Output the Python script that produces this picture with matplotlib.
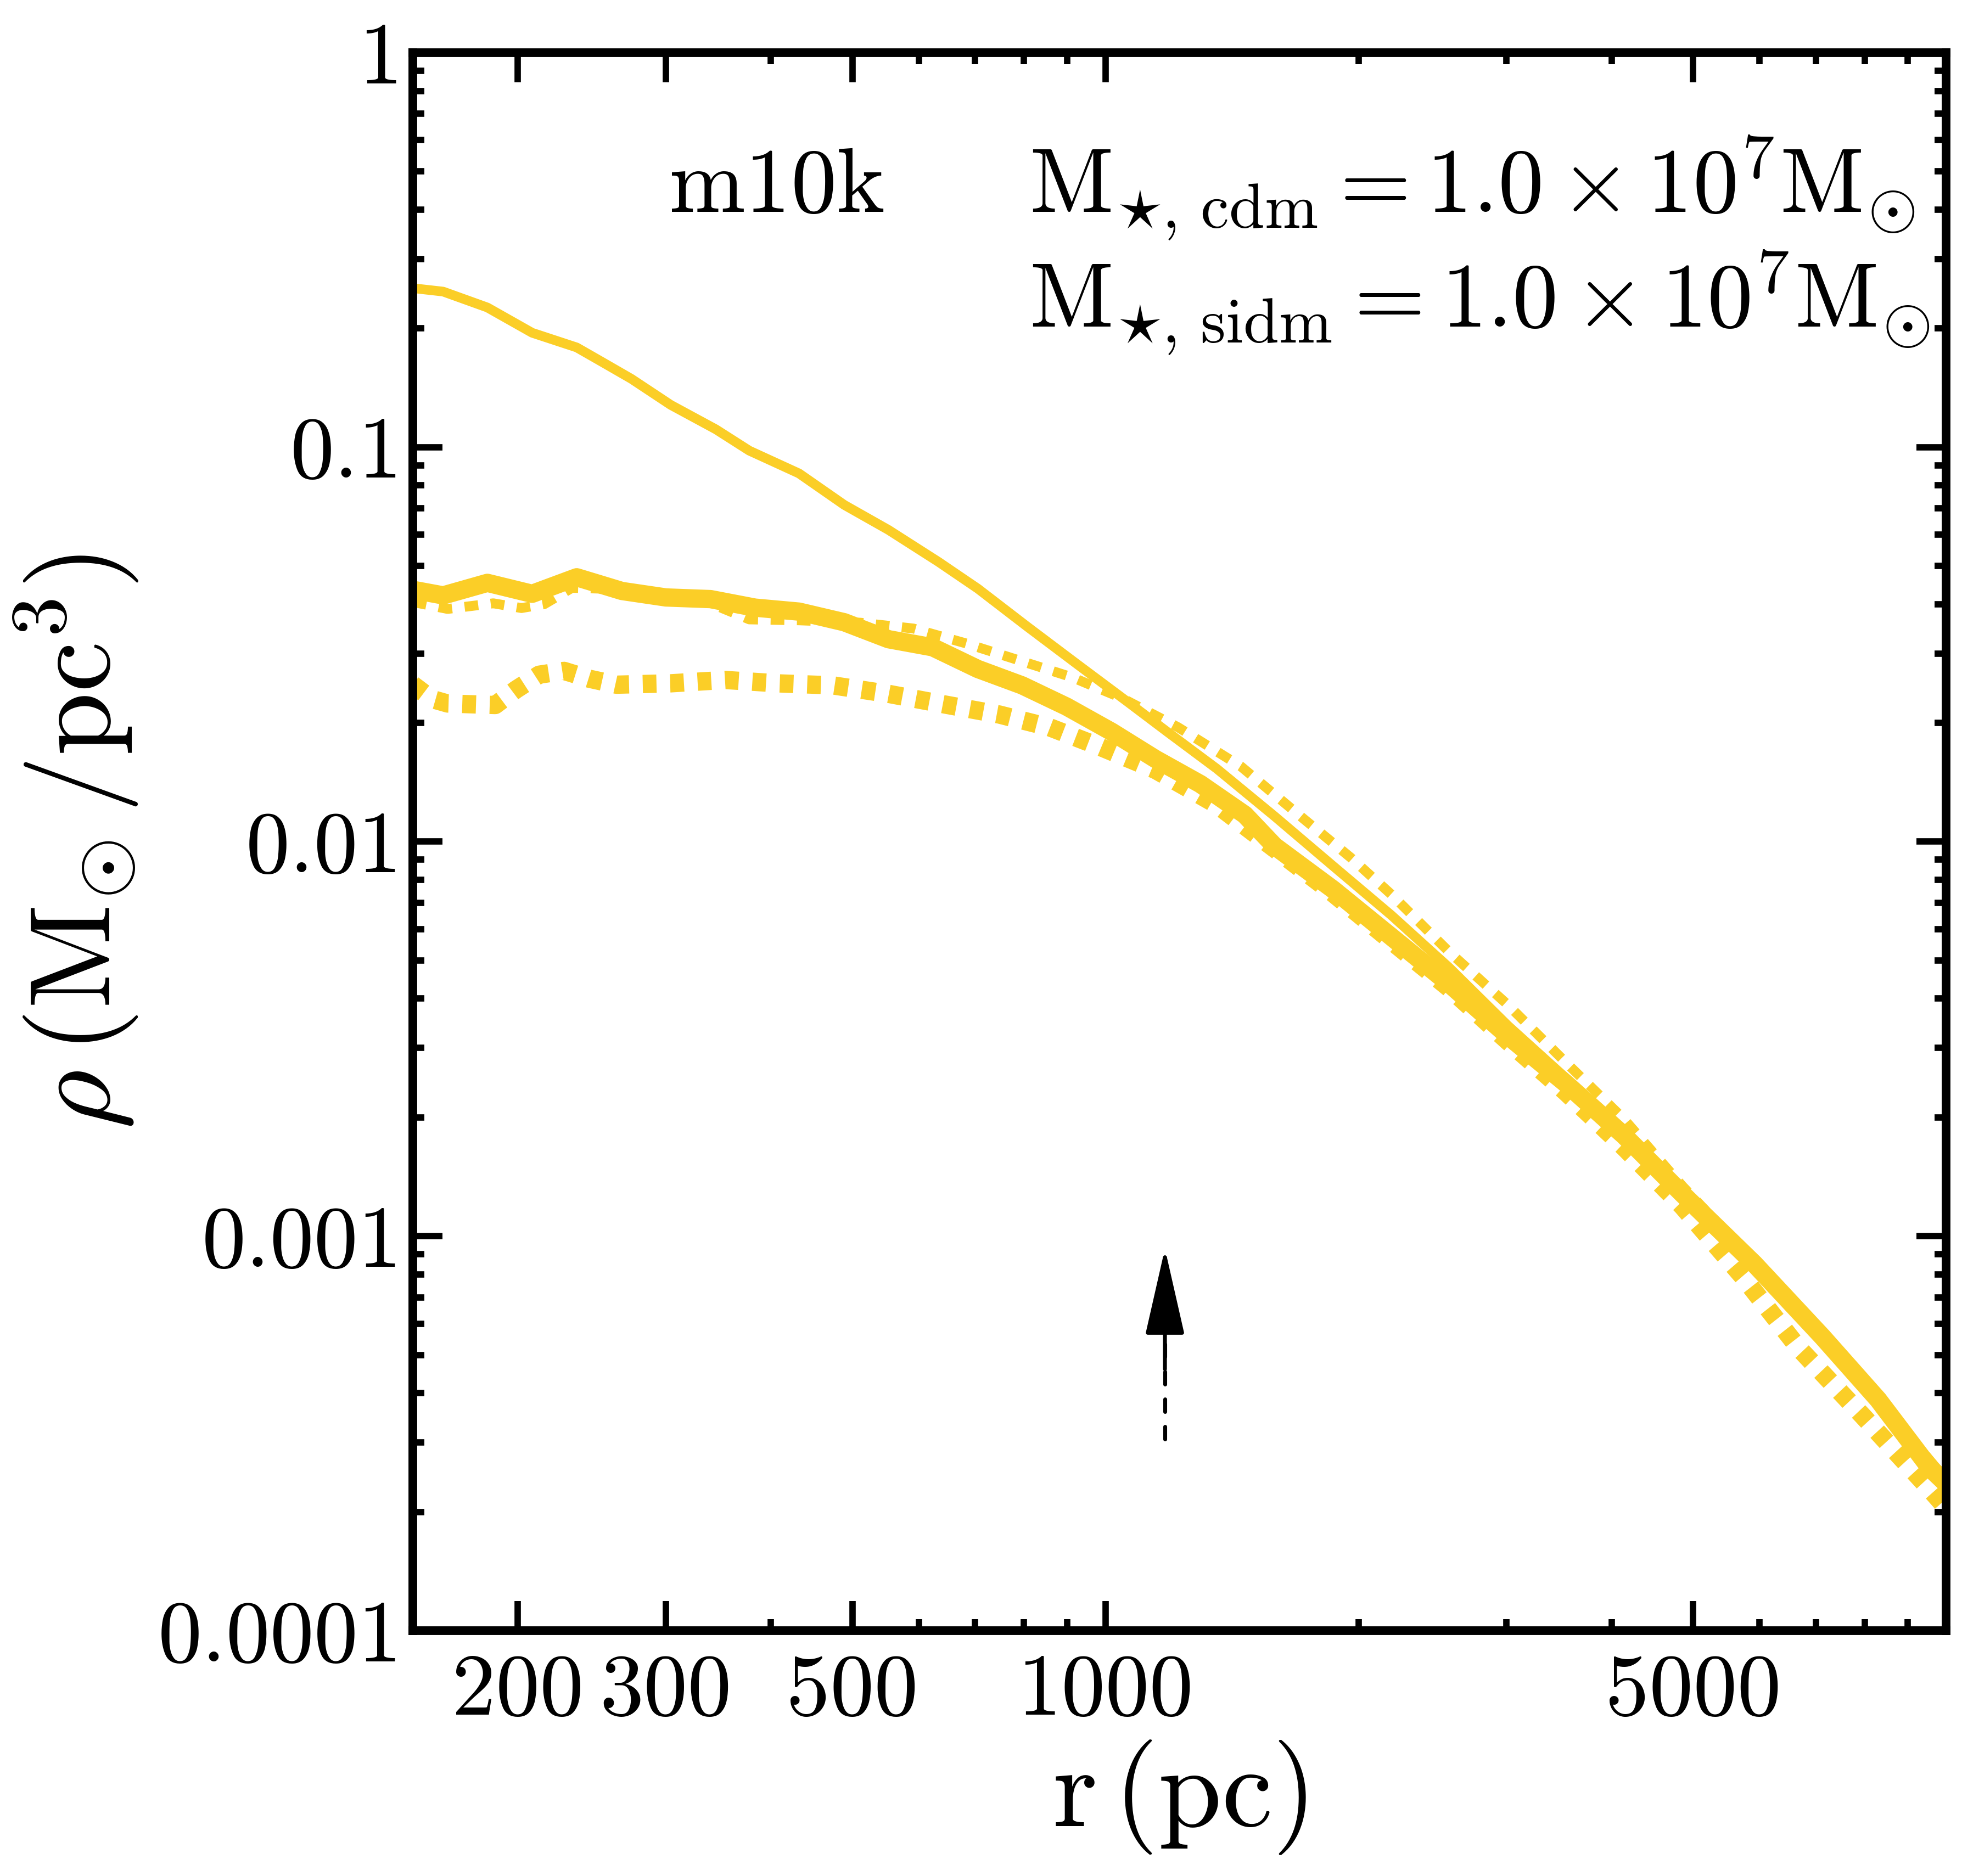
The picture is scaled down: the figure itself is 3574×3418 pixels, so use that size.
import numpy as np
import matplotlib
matplotlib.use("Agg")
import matplotlib.pyplot as plt
from matplotlib.ticker import FixedLocator, FixedFormatter, NullFormatter

plt.rcParams['font.family'] = 'serif'
plt.rcParams['font.serif'] = ['cmr10']
plt.rcParams['mathtext.fontset'] = 'cm'
plt.rcParams['axes.formatter.use_mathtext'] = True
plt.rcParams['lines.scale_dashes'] = False

# ---------------- data ----------------
r_cdm_thin = [150, 163, 184, 208, 235, 250, 273, 304, 344, 377, 432, 489, 552, 633, 705, 807,
              927, 1063, 1184, 1357, 1589, 1865, 2188, 2565, 3010, 3527, 4138, 4856, 5688,
              6677, 7833, 9637, 10000]
rho_cdm_thin = [0.253, 0.248, 0.226, 0.195, 0.179, 0.166, 0.149, 0.128, 0.111, 0.098, 0.0858,
                0.0714, 0.0617, 0.0512, 0.0438, 0.0351, 0.0281, 0.0226, 0.0190, 0.0153, 0.0116,
                0.00868, 0.00651, 0.00479, 0.00342, 0.00252, 0.00184, 0.00131, 0.00093,
                0.00064, 0.00044, 0.000265, 0.000243]

r_cdm_thick = [150, 163, 184, 208, 235, 266, 300, 339, 383, 432, 489, 552, 623, 705, 796, 899,
               1017, 1147, 1297, 1465, 1589, 1865, 2188, 2565, 3010, 3527, 4138, 4856, 5916,
               7130, 8302, 9570, 10000]
rho_cdm_thick = [0.0435, 0.0421, 0.0453, 0.0425, 0.0468, 0.0432, 0.0416, 0.0412, 0.0392, 0.0383,
                 0.0360, 0.0326, 0.0311, 0.0274, 0.0249, 0.0220, 0.0190, 0.0162, 0.0140, 0.0117,
                 0.00975, 0.00757, 0.00574, 0.00436, 0.00322, 0.00244, 0.00180, 0.00128,
                 0.00085, 0.000555, 0.000385, 0.000258, 0.000236]

r_sidm_thin = [150, 165, 187, 202, 215, 232, 250, 300, 339, 377, 432, 511, 591, 683, 790, 913,
               1047, 1220, 1450, 1723, 1958, 2188, 2565, 3010, 3527, 4138, 4856, 5688, 6677,
               7833, 9637, 10000]
rho_sidm_thin = [0.0405, 0.0389, 0.0402, 0.0391, 0.0400, 0.0440, 0.0438, 0.0412, 0.0402, 0.0366,
                 0.0364, 0.0359, 0.0347, 0.0318, 0.0288, 0.0261, 0.0231, 0.0195, 0.0155, 0.0114,
                 0.00911, 0.00735, 0.00525, 0.00386, 0.00276, 0.00198, 0.00134, 0.00094,
                 0.00065, 0.00045, 0.000265, 0.000238]

r_sidm_thick = [150, 158, 165, 188, 199, 212, 227, 243, 262, 304, 353, 407, 474, 552, 642, 748,
                858, 985, 1147, 1357, 1589, 1865, 2188, 2565, 3010, 3527, 4138, 4856, 5728,
                6680, 7960, 9570, 10000]
rho_sidm_thick = [0.0250, 0.0230, 0.0224, 0.0222, 0.0243, 0.0265, 0.0271, 0.0259, 0.0250, 0.0252,
                  0.0257, 0.0252, 0.0249, 0.0237, 0.0223, 0.0210, 0.0195, 0.0174, 0.0152, 0.0124,
                  0.0096, 0.0074, 0.0056, 0.00425, 0.00312, 0.00232, 0.00168, 0.00119, 0.00079,
                  0.00052, 0.00035, 0.000228, 0.000205]

arrow_r = 1177
arrow_tail, arrow_base, arrow_solid_start, arrow_tip = 3.06e-4, 5.9e-4, 4.6e-4, 9.3e-4

x_major = [200, 300, 500, 1000, 5000]
x_major_labels = ['200', '300', '500', '1000', '5000']
x_minor = [400, 600, 700, 800, 900, 2000, 3000, 4000, 6000, 7000, 8000, 9000]
y_major = [1e-4, 1e-3, 1e-2, 1e-1, 1]
y_major_labels = ['0.0001', '0.001', '0.01', '0.1', '1']

label_text = r'$\mathrm{m10k}$'
mstar_cdm = r'$\mathrm{M}_{\star,\,\mathrm{cdm}}=1.0\times10^{7}\mathrm{M}_{\odot}$'
mstar_sidm = r'$\mathrm{M}_{\star,\,\mathrm{sidm}}=1.0\times10^{7}\mathrm{M}_{\odot}$'

color = '#FBCE27'

# ---------------- figure ----------------
fig = plt.figure(figsize=(3574 / 300, 3418 / 300), dpi=300)
ax = fig.add_axes([0.2104, 0.1308, 0.9919 - 0.2104, 0.9719 - 0.1308])

ax.plot(r_cdm_thin, rho_cdm_thin, color=color, lw=4.2, solid_joinstyle='round')
ax.plot(r_cdm_thick, rho_cdm_thick, color=color, lw=8.0, solid_joinstyle='round')
ax.plot(r_sidm_thin, rho_sidm_thin, color=color, lw=4.3, ls=(0, (6, 5.5)), dash_capstyle='butt')
ax.plot(r_sidm_thick, rho_sidm_thick, color=color, lw=8.0, ls=(0, (6, 6)), dash_capstyle='butt')

ax.plot([arrow_r, arrow_r], [arrow_tail, arrow_base], color='k', lw=1.7,
        ls=(0, (5.5, 6.5)), dash_capstyle='round')
ax.annotate('', xy=(arrow_r, arrow_tip), xytext=(arrow_r, arrow_solid_start),
            arrowprops=dict(arrowstyle='-|>,head_length=3.3,head_width=0.75',
                            mutation_scale=10, lw=1.7, color='k',
                            shrinkA=0, shrinkB=0, joinstyle='round', capstyle='round'))

ax.set_xscale('log')
ax.set_yscale('log')
ax.set_xlim(150, 10000)
ax.set_ylim(1e-4, 1)

ax.xaxis.set_major_locator(FixedLocator(x_major))
ax.xaxis.set_major_formatter(FixedFormatter(x_major_labels))
ax.xaxis.set_minor_locator(FixedLocator(x_minor))
ax.xaxis.set_minor_formatter(NullFormatter())
ax.yaxis.set_major_locator(FixedLocator(y_major))
ax.yaxis.set_major_formatter(FixedFormatter(y_major_labels))
y_minor = [m * 10.0 ** e for e in range(-4, 0) for m in range(2, 10)]
ax.yaxis.set_minor_locator(FixedLocator(y_minor))
ax.yaxis.set_minor_formatter(NullFormatter())

ax.tick_params(which='both', direction='in', top=True, right=True, width=2.8)
ax.tick_params(which='major', length=13, labelsize=38.5)
ax.tick_params(which='minor', length=5)
ax.tick_params(axis='y', which='major', pad=4.5)
ax.tick_params(axis='x', which='major', pad=10)
for s in ax.spines.values():
    s.set_linewidth(3.8)

ax.set_xlabel(r'$\mathrm{r}\,(\mathrm{pc})$', fontsize=50, labelpad=3)
ax.set_ylabel(r'$\rho\,(\mathrm{M}_{\odot}\,/\mathrm{pc}^{3})$', fontsize=50, labelpad=8)

ax.text(0.167, 0.899, label_text, transform=ax.transAxes, fontsize=40, ha='left', va='baseline')
ax.text(0.402, 0.899, mstar_cdm, transform=ax.transAxes, fontsize=40, ha='left', va='baseline')
ax.text(0.402, 0.826, mstar_sidm, transform=ax.transAxes, fontsize=40, ha='left', va='baseline')

fig.savefig('out.png', dpi=300)
